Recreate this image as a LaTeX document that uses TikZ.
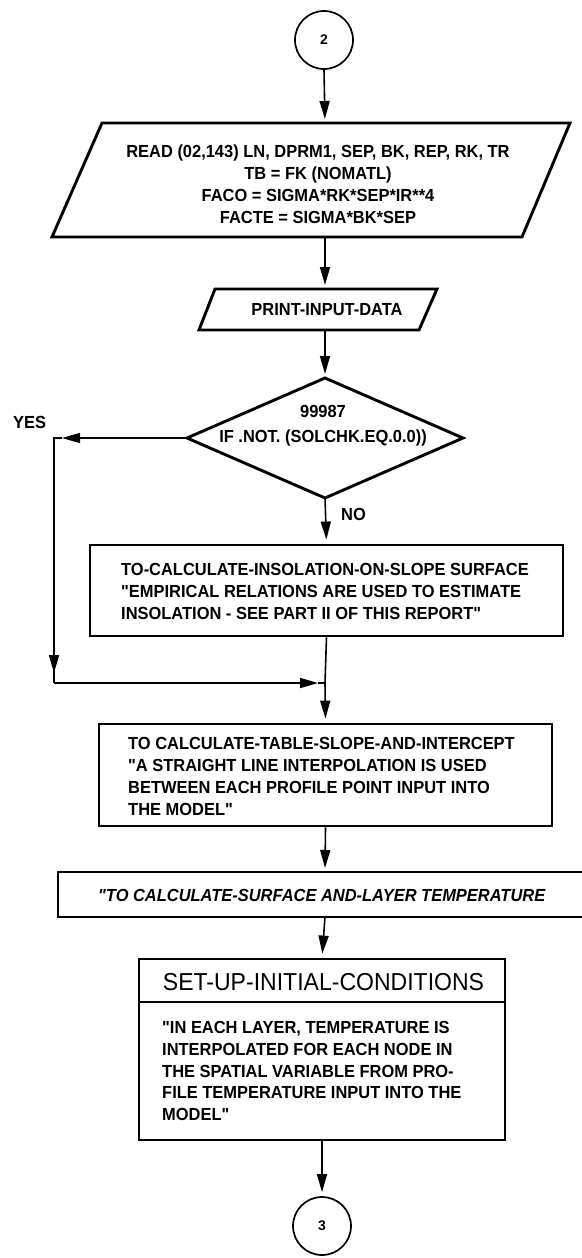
\documentclass[tikz,border=0pt]{standalone}
\usepackage{fontspec}
\setmainfont{Liberation Sans}
\newfontfamily\flow{Liberation Sans}[FakeStretch=0.94]
\usetikzlibrary{arrows.meta}
\begin{document}
\begin{tikzpicture}[x=1pt,y=-1pt,
  boxline/.style={line width=2.9pt, line join=miter},
  conn/.style={line width=1.6pt},
  tip/.style={-{Triangle[length=18pt,width=10pt]}},
  arr/.style={conn,tip,shorten >=4pt},
  txt/.style={font=\flow\fontsize{17.5}{22}\selectfont\bfseries, inner sep=0pt, align=center},
  ltxt/.style={font=\flow\fontsize{17.5}{22}\selectfont\bfseries, inner sep=0pt, align=left, anchor=west},
  circ/.style={draw, circle, line width=1.7pt, minimum size=58pt, inner sep=0pt, font=\fontsize{14}{14}\selectfont\bfseries},
  rbox/.style={draw, line width=2.9pt, inner sep=0pt},
]
\useasboundingbox (0,0) rectangle (581,1258);

% connector 2
\node[circ] (c2) at (324,40) {2};

% READ parallelogram
\coordinate (rTL) at (102,123); \coordinate (rTR) at (570,123);
\coordinate (rBR) at (522,237); \coordinate (rBL) at (52,237);
\coordinate (rtop) at (325,123); \coordinate (rbot) at (325,237);
\draw[boxline] (rTL) -- (rTR) -- (rBR) -- (rBL) -- cycle;
\node[txt] (readtxt) at (318,184) {READ (02,143) LN, DPRM1, SEP, BK, REP, RK, TR\\TB = FK (NOMATL)\\FACO = SIGMA*RK*SEP*IR**4\\FACTE = SIGMA*BK*SEP};

% PRINT parallelogram
\coordinate (pTL) at (215,289); \coordinate (pTR) at (437,289);
\coordinate (pBR) at (419,330); \coordinate (pBL) at (199,330);
\coordinate (ptop) at (325,289); \coordinate (pbot) at (325,330);
\draw[boxline] (pTL) -- (pTR) -- (pBR) -- (pBL) -- cycle;
\node[txt] (printtxt) at (327,310) {PRINT-INPUT-DATA};

% decision
\coordinate (dT) at (325,378); \coordinate (dR) at (463,438);
\coordinate (dB) at (325,498); \coordinate (dL) at (187,438);
\draw[boxline] (dT) -- (dR) -- (dB) -- (dL) -- cycle;
\node[txt, font=\flow\fontsize{17.5}{25}\selectfont\bfseries] (dectxt) at (323,426) {99987\\IF .NOT. (SOLCHK.EQ.0.0))};
\node[txt, anchor=west] (yes) at (13,422) {YES};
\node[txt, anchor=west] (no) at (341,514) {NO};

% insolation box
\node[rbox, minimum width=473pt, minimum height=91pt] (ins) at (326.5,590.5) {};
\node[ltxt] (instxt) at (121,591) {TO-CALCULATE-INSOLATION-ON-SLOPE SURFACE\\"EMPIRICAL RELATIONS ARE USED TO ESTIMATE\\INSOLATION - SEE PART II OF THIS REPORT"};

% yes path
\coordinate (yA) at (62,438);
\coordinate (yC) at (54,438);
\coordinate (yD) at (54,673);
\coordinate (yE) at (54,683);
\coordinate (yF) at (318,683);
\coordinate (junc) at (325,683);
\draw[conn,tip] (dL) -- (yA);
\draw[conn] (yA) -- (yC) -- (yD);
\draw[conn,tip] (yC) -- (yD);
\draw[conn] (yD) -- (yE);
\draw[conn,tip] (yE) -- (yF);
\draw[conn] (yF) -- (junc);
\draw[conn] (ins.south) -- (junc);

% table box
\node[rbox, minimum width=453pt, minimum height=102pt] (tab) at (325.5,775) {};
\node[ltxt] (tabtxt) at (128,776) {TO CALCULATE-TABLE-SLOPE-AND-INTERCEPT\\"A STRAIGHT LINE INTERPOLATION IS USED\\BETWEEN EACH PROFILE POINT INPUT INTO\\THE MODEL"};

% surface box (runs off the right edge)
\coordinate (sTL) at (58,872); \coordinate (sTR) at (584,872);
\coordinate (sBL) at (58,917); \coordinate (sBR) at (584,917);
\coordinate (stop) at (325,872); \coordinate (sbot) at (325,917);
\draw[boxline] (sTR) -- (sTL) -- (sBL) -- (sBR);
\node[ltxt, font=\flow\fontsize{17.5}{22}\selectfont\bfseries\itshape] (surftxt) at (98,895) {"TO CALCULATE-SURFACE AND-LAYER TEMPERATURE};

% set-up box
\node[rbox, minimum width=366pt, minimum height=181pt] (set) at (322,1049.5) {};
\coordinate (divL) at (139,1002); \coordinate (divR) at (505,1002);
\draw[boxline] (divL) -- (divR);
\node[inner sep=0pt, font=\flow\fontsize{24.5}{26}\selectfont] (settitle) at (323.5,982) {SET-UP-INITIAL-CONDITIONS};
\node[ltxt, font=\flow\fontsize{17.5}{21.8}\selectfont\bfseries] (settxt) at (162,1071) {"IN EACH LAYER, TEMPERATURE IS\\INTERPOLATED FOR EACH NODE IN\\THE SPATIAL VARIABLE FROM PRO-\\FILE TEMPERATURE INPUT INTO THE\\MODEL"};

% connector 3
\node[circ] (c3) at (322,1226) {3};

% main arrows
\draw[arr] (c2.south) -- (rtop);
\draw[arr] (rbot) -- (ptop);
\draw[arr] (pbot) -- (dT);
\draw[arr] (dB) -- (ins.north);
\draw[arr] (junc) -- (tab.north);
\draw[arr] (tab.south) -- (stop);
\draw[arr] (sbot) -- (set.north);
\draw[arr] (set.south) -- (c3.north);
\end{tikzpicture}
\end{document}
